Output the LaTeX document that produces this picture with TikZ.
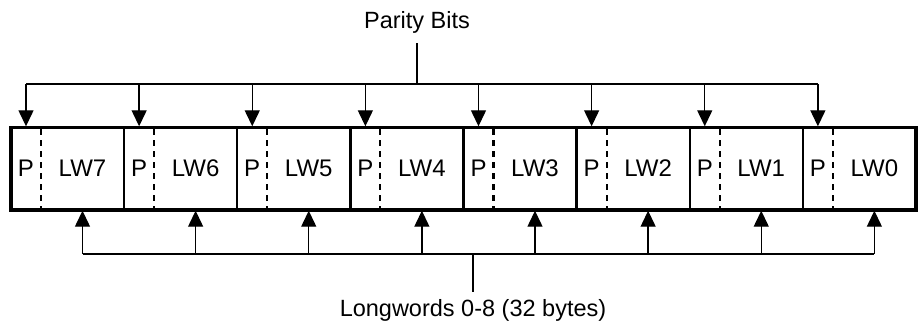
\documentclass[tikz,border=0pt]{standalone}
\usepackage{fontspec}
\setmainfont{Liberation Sans}
\usetikzlibrary{arrows.meta}
\begin{document}
\begin{tikzpicture}[x=1pt,y=-1pt,
  field/.style={inner sep=0pt, minimum height=84pt, font=\fontsize{24}{28}\selectfont},
  pfield/.style={field, minimum width=30pt},
  wfield/.style={field, minimum width=83pt},
  bus/.style={line width=1.3pt},
  feed/.style={line width=1.3pt, -{Triangle[length=16pt,width=15pt]}},
  frame/.style={line width=3.4pt},
  divider/.style={line width=2.3pt},
  split/.style={line width=2.2pt, dash pattern=on 6pt off 5pt},
  caption/.style={inner sep=0pt, font=\fontsize{23.5}{28}\selectfont}]
\useasboundingbox (0,0) rectangle (918,324);

% register cells: parity bit + longword, LW7 on the left down to LW0
\foreach \i/\w in {0/7,1/6,2/5,3/4,4/3,5/2,6/1,7/0}{
  \pgfmathsetmacro{\cx}{11+113.125*\i}
  \node[pfield] (p\i) at (\cx+15,168.5) {P};
  \node[wfield] (w\i) at (\cx+71.5,168.5) {LW\w};
  \draw[split] (\cx+30,129) -- (\cx+30,209);
  \ifnum\i>0 \draw[divider] (\cx,127.5) -- (\cx,210); \fi
}
\draw[frame] (11,127.5) rectangle (916,210);

% parity bits distribution bus
\node[caption] (parity) at (417,22) {Parity Bits};
\coordinate (tbus) at (417,84);
\draw[bus] (parity.south) ++(0,10) -- (tbus);
\draw[bus] (p0.north |- tbus) -- (p7.north |- tbus);
\foreach \i in {0,...,7}{
  \draw[feed] (p\i.north |- tbus) -- (p\i.north);
}

% longword data bus
\node[caption] (lw) at (473,310) {Longwords 0-8 (32 bytes)};
\coordinate (bbus) at (473,254);
\draw[bus] (lw.north) ++(0,-7) -- (bbus);
\draw[bus] (w0.south |- bbus) -- (w7.south |- bbus);
\foreach \i in {0,...,7}{
  \draw[feed] (w\i.south |- bbus) -- (w\i.south);
}
\end{tikzpicture}
\end{document}
